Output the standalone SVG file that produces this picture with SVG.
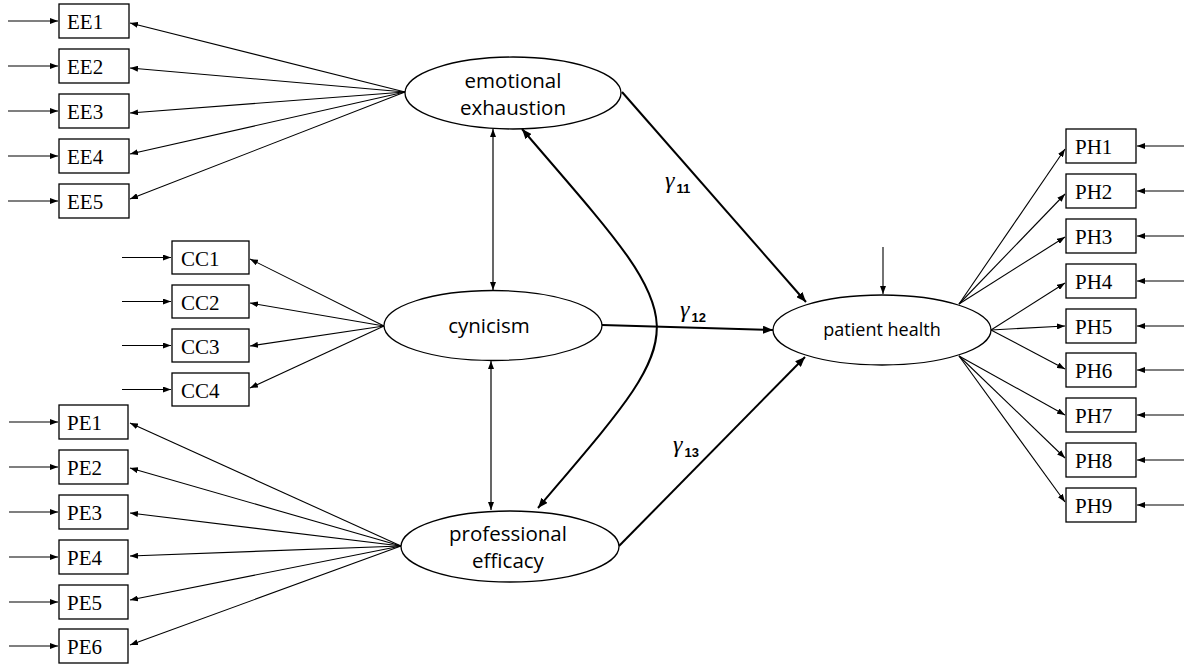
<svg xmlns="http://www.w3.org/2000/svg" width="1184" height="664" viewBox="0 0 1184 664">
<style>
.box{fill:#fff;stroke:#000;stroke-width:1.3}
.lat{fill:#fff;stroke:#000;stroke-width:1.3}
.bt{font-family:"Liberation Serif",serif;font-size:21px;fill:#000}
.lt{font-family:"Open Sans",sans-serif;font-size:20.5px;fill:#000;text-anchor:middle}
.ln{stroke:#000;stroke-width:1.1;fill:none;marker-end:url(#ah)}
.dbl{stroke:#000;stroke-width:1.2;fill:none;marker-start:url(#ah);marker-end:url(#ah)}
.thk{stroke:#000;stroke-width:2;fill:none;marker-end:url(#ahb)}
.g{font-family:"Liberation Serif",serif;font-style:italic;font-size:24px;fill:#000}
.sub{font-family:"Liberation Sans",sans-serif;font-style:normal;font-weight:bold;font-size:13px}
</style>
<defs>
<marker id="ah" viewBox="0 0 8 6" refX="8" refY="3" markerWidth="8" markerHeight="6" markerUnits="userSpaceOnUse" orient="auto-start-reverse"><path d="M0,0 L8,3 L0,6 z" fill="#000"/></marker>
<marker id="ahb" viewBox="0 0 10 8" refX="10" refY="4" markerWidth="10" markerHeight="8" markerUnits="userSpaceOnUse" orient="auto-start-reverse"><path d="M0,0 L10,4 L0,8 z" fill="#000"/></marker>
</defs>
<rect width="1184" height="664" fill="#fff"/>
<g id="connectors">
<line class="ln" x1="8" y1="21" x2="58" y2="21"/>
<line class="ln" x1="8" y1="66" x2="58" y2="66"/>
<line class="ln" x1="8" y1="111" x2="58" y2="111"/>
<line class="ln" x1="8" y1="156" x2="58" y2="156"/>
<line class="ln" x1="8" y1="201" x2="58" y2="201"/>
<line class="ln" x1="122" y1="257.5" x2="171" y2="257.5"/>
<line class="ln" x1="122" y1="301.5" x2="171" y2="301.5"/>
<line class="ln" x1="122" y1="345.5" x2="171" y2="345.5"/>
<line class="ln" x1="122" y1="389.5" x2="171" y2="389.5"/>
<line class="ln" x1="9" y1="422" x2="58" y2="422"/>
<line class="ln" x1="9" y1="467" x2="58" y2="467"/>
<line class="ln" x1="9" y1="512" x2="58" y2="512"/>
<line class="ln" x1="9" y1="557" x2="58" y2="557"/>
<line class="ln" x1="9" y1="602" x2="58" y2="602"/>
<line class="ln" x1="9" y1="646" x2="58" y2="646"/>
<line class="ln" x1="1184" y1="146" x2="1137" y2="146"/>
<line class="ln" x1="1184" y1="191" x2="1137" y2="191"/>
<line class="ln" x1="1184" y1="236" x2="1137" y2="236"/>
<line class="ln" x1="1184" y1="281" x2="1137" y2="281"/>
<line class="ln" x1="1184" y1="326" x2="1137" y2="326"/>
<line class="ln" x1="1184" y1="370" x2="1137" y2="370"/>
<line class="ln" x1="1184" y1="415" x2="1137" y2="415"/>
<line class="ln" x1="1184" y1="460" x2="1137" y2="460"/>
<line class="ln" x1="1184" y1="505" x2="1137" y2="505"/>
<line class="ln" x1="405" y1="92" x2="130" y2="23"/>
<line class="ln" x1="405" y1="92" x2="130" y2="68"/>
<line class="ln" x1="405" y1="92" x2="130" y2="113"/>
<line class="ln" x1="405" y1="92" x2="130" y2="154"/>
<line class="ln" x1="405" y1="92" x2="130" y2="199"/>
<line class="ln" x1="384" y1="326" x2="250" y2="259"/>
<line class="ln" x1="384" y1="326" x2="250" y2="303"/>
<line class="ln" x1="384" y1="326" x2="250" y2="346"/>
<line class="ln" x1="384" y1="326" x2="250" y2="388"/>
<line class="ln" x1="401" y1="546" x2="130" y2="423"/>
<line class="ln" x1="401" y1="546" x2="130" y2="468"/>
<line class="ln" x1="401" y1="546" x2="130" y2="513"/>
<line class="ln" x1="401" y1="546" x2="130" y2="556"/>
<line class="ln" x1="401" y1="546" x2="130" y2="600"/>
<line class="ln" x1="401" y1="546" x2="130" y2="645"/>
<line class="ln" x1="959" y1="304" x2="1065" y2="149"/>
<line class="ln" x1="959" y1="304" x2="1065" y2="194"/>
<line class="ln" x1="959" y1="304" x2="1065" y2="237"/>
<line class="ln" x1="991" y1="330" x2="1065" y2="283"/>
<line class="ln" x1="991" y1="330" x2="1065" y2="326"/>
<line class="ln" x1="991" y1="330" x2="1065" y2="369"/>
<line class="ln" x1="959" y1="356" x2="1065" y2="415"/>
<line class="ln" x1="959" y1="356" x2="1065" y2="458"/>
<line class="ln" x1="959" y1="356" x2="1065" y2="502"/>
<line class="ln" x1="883" y1="247" x2="883" y2="294"/>
<line class="dbl" x1="493" y1="129" x2="493" y2="290"/>
<line class="dbl" x1="491" y1="361" x2="491" y2="510"/>
<path d="M522,129 C699,335 699,318 538,508" stroke="#000" stroke-width="2" fill="none" marker-start="url(#ahb)" marker-end="url(#ahb)"/>
<line class="thk" x1="622" y1="92" x2="806" y2="302"/>
<line class="thk" x1="602" y1="325" x2="773" y2="330"/>
<line class="thk" x1="619" y1="546" x2="805" y2="357"/>
</g>
<g id="labels">
<text class="g" x="665" y="188">γ<tspan class="sub" dx="2" dy="5">11</tspan></text>
<text class="g" x="680" y="317">γ<tspan class="sub" dx="2" dy="5">12</tspan></text>
<text class="g" x="673" y="452">γ<tspan class="sub" dx="2" dy="5">13</tspan></text>
</g>
<g id="EE1"><rect class="box" x="59" y="4" width="70" height="34"/><text class="bt" x="67" y="29">EE1</text></g>
<g id="EE2"><rect class="box" x="59" y="49" width="70" height="34"/><text class="bt" x="67" y="74">EE2</text></g>
<g id="EE3"><rect class="box" x="59" y="94" width="70" height="34"/><text class="bt" x="67" y="119">EE3</text></g>
<g id="EE4"><rect class="box" x="59" y="139" width="70" height="34"/><text class="bt" x="67" y="164">EE4</text></g>
<g id="EE5"><rect class="box" x="59" y="184" width="70" height="34"/><text class="bt" x="67" y="209">EE5</text></g>
<g id="CC1"><rect class="box" x="172" y="241" width="77" height="33"/><text class="bt" x="181" y="266">CC1</text></g>
<g id="CC2"><rect class="box" x="172" y="285" width="77" height="33"/><text class="bt" x="181" y="310">CC2</text></g>
<g id="CC3"><rect class="box" x="172" y="329" width="77" height="33"/><text class="bt" x="181" y="354">CC3</text></g>
<g id="CC4"><rect class="box" x="172" y="373" width="77" height="33"/><text class="bt" x="181" y="398">CC4</text></g>
<g id="PE1"><rect class="box" x="59" y="405" width="69" height="34"/><text class="bt" x="67" y="430">PE1</text></g>
<g id="PE2"><rect class="box" x="59" y="450" width="69" height="34"/><text class="bt" x="67" y="475">PE2</text></g>
<g id="PE3"><rect class="box" x="59" y="495" width="69" height="34"/><text class="bt" x="67" y="520">PE3</text></g>
<g id="PE4"><rect class="box" x="59" y="540" width="69" height="34"/><text class="bt" x="67" y="565">PE4</text></g>
<g id="PE5"><rect class="box" x="59" y="585" width="69" height="34"/><text class="bt" x="67" y="610">PE5</text></g>
<g id="PE6"><rect class="box" x="59" y="629" width="69" height="34"/><text class="bt" x="67" y="654">PE6</text></g>
<g id="PH1"><rect class="box" x="1066" y="129" width="70" height="34"/><text class="bt" x="1075" y="154">PH1</text></g>
<g id="PH2"><rect class="box" x="1066" y="174" width="70" height="34"/><text class="bt" x="1075" y="199">PH2</text></g>
<g id="PH3"><rect class="box" x="1066" y="219" width="70" height="34"/><text class="bt" x="1075" y="244">PH3</text></g>
<g id="PH4"><rect class="box" x="1066" y="264" width="70" height="34"/><text class="bt" x="1075" y="289">PH4</text></g>
<g id="PH5"><rect class="box" x="1066" y="309" width="70" height="34"/><text class="bt" x="1075" y="334">PH5</text></g>
<g id="PH6"><rect class="box" x="1066" y="353" width="70" height="34"/><text class="bt" x="1075" y="378">PH6</text></g>
<g id="PH7"><rect class="box" x="1066" y="398" width="70" height="34"/><text class="bt" x="1075" y="423">PH7</text></g>
<g id="PH8"><rect class="box" x="1066" y="443" width="70" height="34"/><text class="bt" x="1075" y="468">PH8</text></g>
<g id="PH9"><rect class="box" x="1066" y="488" width="70" height="34"/><text class="bt" x="1075" y="513">PH9</text></g>
<g id="emotional_exhaustion"><ellipse class="lat" cx="513" cy="93" rx="108" ry="36"/><text class="lt" x="513" y="88">emotional</text><text class="lt" x="513" y="115">exhaustion</text></g>
<g id="cynicism"><ellipse class="lat" cx="493" cy="325.5" rx="109" ry="35"/><text class="lt" x="489" y="333">cynicism</text></g>
<g id="professional_efficacy"><ellipse class="lat" cx="510" cy="546.5" rx="109" ry="35.5"/><text class="lt" x="508" y="541">professional</text><text class="lt" x="508" y="568">efficacy</text></g>
<g id="patient_health"><ellipse class="lat" cx="882" cy="330" rx="109" ry="35"/><text class="lt" x="882" y="336" style="font-size:18px">patient health</text></g>
</svg>
